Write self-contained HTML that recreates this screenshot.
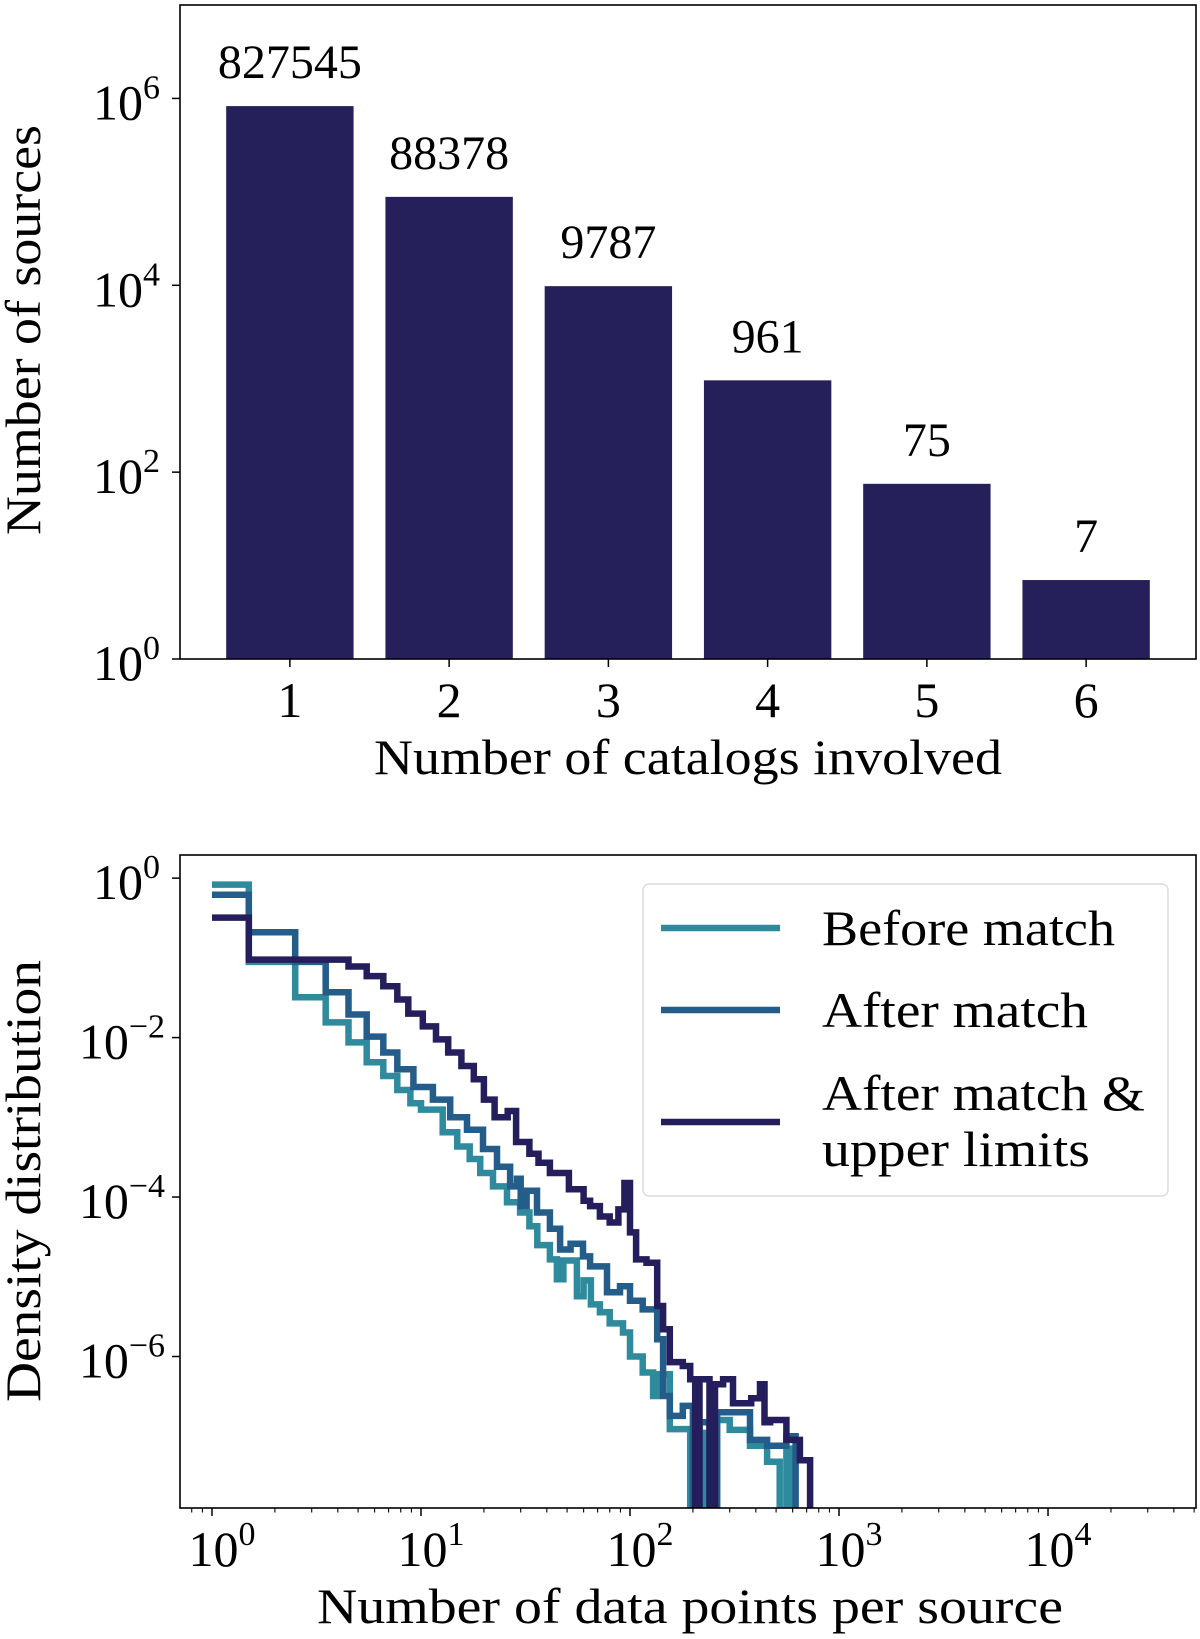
<!DOCTYPE html>
<html><head><meta charset="utf-8">
<style>
html,body{margin:0;padding:0;background:#fff;}
svg{display:block;font-family:"Liberation Serif",serif;}
</style></head>
<body>
<svg id="fig" width="1200" height="1639" viewBox="0 0 1200 1639" xmlns="http://www.w3.org/2000/svg">
<g id="topChart"></g>
<g id="botChart"></g>
</svg>
<script>
// ---- Top chart data ----
const barCategories = [1, 2, 3, 4, 5, 6];
const barValues = [827545, 88378, 9787, 961, 75, 7];
const barYTicks = [0, 2, 4, 6];

// ---- Bottom chart data: step series [left edge x, density] (0 = empty bin) ----
const beforeX = [1,1.5,2.5,3.5,4.5,5.5,6.6,7.7,8.9,10,12.7,14.9,17.1,19.2,22.1,25.8,29.8,33,36,41.4,44.7,48,55.7,60,65,71.8,80,92.6,100,115,129,135,155,194,210,230,261,300,375,453,520,560,583];
const beforeY = [0.83,0.089,0.032,0.0155,8.7e-3,4.9e-3,3.3e-3,2.2e-3,1.5e-3,1.25e-3,6.5e-4,4.3e-4,3.0e-4,2.0e-4,1.36e-4,8.6e-5,6.4e-5,4.3e-5,2.5e-5,1.65e-5,9.3e-6,1.6e-5,5.7e-6,9e-6,4.5e-6,3.6e-6,2.6e-6,2.0e-6,1.0e-6,6.3e-7,3.2e-7,6e-7,1.23e-7,0,1.1e-7,0,1.6e-7,1.2e-7,7.6e-8,4.8e-8,0,7e-8,0];
const afterX = [1,1.5,2.5,3.5,4.5,5.5,6.6,7.7,9.2,11.4,13.8,16.6,19.8,23.1,26.7,28.8,30,32,35.9,41.4,46.3,52,59.6,64.4,77.6,89.6,100,115,135,144,155,179,200,215,240,261,325,375,453,560,620];
const afterY = [0.62,0.21,0.089,0.037,0.0195,0.0103,6.5e-3,4.0e-3,2.4e-3,1.67e-3,1.0e-3,7e-4,4e-4,2.4e-4,1.36e-4,1.7e-4,7.7e-5,1.2e-4,6.4e-5,4e-5,2.2e-5,2.6e-5,1.8e-5,1.35e-5,6.4e-6,7.6e-6,5e-6,3.9e-6,1.65e-6,3.2e-7,1.8e-7,2.4e-7,0,1.5e-7,0,2.0e-7,2.0e-7,9e-8,7.6e-8,1e-7,0];
const upperX = [1,1.5,4.5,5.5,6.6,7.7,8.7,10.2,11.8,13.5,15.6,17.9,20,22.5,26,28.5,33,36.5,41.4,51,60,64.4,71.8,80,88,94,100,107,120,135,144,155,179,194,205,215,240,255,279,311,380,419,440,468,560,650,727];
const upperY = [0.32,0.095,0.078,0.059,0.044,0.030,0.020,0.0138,9.5e-3,6.5e-3,4.4e-3,3.0e-3,1.67e-3,1.0e-3,1.2e-3,4.9e-4,3.5e-4,2.7e-4,2.0e-4,1.25e-4,9e-5,7.7e-5,5.7e-5,4.8e-5,7e-5,1.5e-4,3.6e-5,1.65e-5,1.5e-5,4.3e-6,2.2e-6,8.5e-7,7.6e-7,5.2e-7,0,5.2e-7,0,4.5e-7,5.2e-7,2.6e-7,3e-7,4.5e-7,1.5e-7,1.6e-7,9e-8,5e-8,0];
const botXTicks = [0, 1, 2, 3, 4];
const botYTicks = [0, -2, -4, -6];
const legendLabels = [["Before match"], ["After match"], ["After match &", "upper limits"]];

const NS = "http://www.w3.org/2000/svg";
function mk(parent, tag, attrs, text) {
  const e = document.createElementNS(NS, tag);
  for (const k in attrs) e.setAttribute(k, attrs[k]);
  if (text !== undefined) e.textContent = text;
  parent.appendChild(e);
  return e;
}
function powLabel(g, x, y, exp, anchor, name) {
  const t = mk(g, "text", {x: x, y: y, "font-size": 50, "text-anchor": anchor, fill: "#000"});
  
  
  const b = document.createElementNS(NS, "tspan"); b.textContent = "10"; t.appendChild(b);
  const s = document.createElementNS(NS, "tspan");
  s.setAttribute("font-size", 34); s.setAttribute("dy", -21);
  s.textContent = exp < 0 ? "\u2212" + (-exp) : String(exp);
  t.appendChild(s);
  return t;
}

// ===== Top chart =====
const topG = document.getElementById("topChart");
const T = {l: 180, r: 1196, t: 5, b: 659, xmin: 0.31, xmax: 6.69, ymin: 0, ymax: 7};
const tx = v => T.l + (v - T.xmin) / (T.xmax - T.xmin) * (T.r - T.l);
const ty = v => T.b - (Math.log10(v) - T.ymin) / (T.ymax - T.ymin) * (T.b - T.t);
barCategories.forEach((c, i) => {
  const x0 = tx(c - 0.4), x1 = tx(c + 0.4), y = ty(barValues[i]);
  const r = mk(topG, "rect", {x: x0, y: y, width: x1 - x0, height: T.b - y, fill: "#251f5a"});
  
  
  const lb = mk(topG, "text", {x: tx(c), y: y - 28, "font-size": 48, "text-anchor": "middle"}, String(barValues[i]));
  
  
  const tk = mk(topG, "line", {x1: tx(c), x2: tx(c), y1: T.b, y2: T.b + 8, stroke: "#000", "stroke-width": 1.5});
  
  
  const tl = mk(topG, "text", {x: tx(c), y: 717, "font-size": 50, "text-anchor": "middle"}, String(c));
  
  
});
barYTicks.forEach(e => {
  const y = ty(Math.pow(10, e));
  const tk = mk(topG, "line", {x1: T.l - 8, x2: T.l, y1: y, y2: y, stroke: "#000", "stroke-width": 1.5});
  
  
  powLabel(topG, 160, y + 21, e, "end", 'y-tick-label');
});
const tf = mk(topG, "rect", {x: T.l, y: T.t, width: T.r - T.l, height: T.b - T.t, fill: "none", stroke: "#000", "stroke-width": 1.6});


const txl = mk(topG, "text", {x: 374, y: 774, "font-size": 50, textLength: 628, lengthAdjust: "spacingAndGlyphs"}, "Number of catalogs involved");


const tyl = mk(topG, "text", {x: 0, y: 0, "font-size": 50, "text-anchor": "middle", textLength: 410, lengthAdjust: "spacingAndGlyphs", transform: "translate(40,330) rotate(-90)"}, "Number of sources");



// ===== Bottom chart =====
const botG = document.getElementById("botChart");
const B = {l: 180, r: 1196, t: 855, b: 1508, xmin: -0.153, xmax: 4.708, ymin: -7.9, ymax: 0.29};
const bx = v => B.l + (Math.log10(v) - B.xmin) / (B.xmax - B.xmin) * (B.r - B.l);
const by = v => v <= 0 ? B.b + 20 : B.b - (Math.log10(v) - B.ymin) / (B.ymax - B.ymin) * (B.b - B.t);
const cp = mk(botG, "clipPath", {id: "clipB"});
mk(cp, "rect", {x: B.l, y: B.t, width: B.r - B.l, height: B.b - B.t});
const series = [
  {xs: beforeX, ys: beforeY, color: "#2e8a9c", name: "before-match-line"},
  {xs: afterX, ys: afterY, color: "#245c8a", name: "after-match-line"},
  {xs: upperX, ys: upperY, color: "#241f5c", name: "after-match-upper-limits-line"}
];
const sg = mk(botG, "g", {"clip-path": "url(#clipB)"});
series.forEach(s => {
  let d = "";
  for (let i = 0; i < s.xs.length; i++) {
    const x = bx(s.xs[i]), y = by(s.ys[i]);
    const xn = i + 1 < s.xs.length ? bx(s.xs[i + 1]) : bx(s.xs[i] * 1.08);
    d += (i === 0 ? "M" : "L") + x.toFixed(1) + "," + y.toFixed(1) + "L" + xn.toFixed(1) + "," + y.toFixed(1);
  }
  const p = mk(sg, "path", {d: d, fill: "none", stroke: s.color, "stroke-width": 6.5, "stroke-linejoin": "miter"});
  
  
});
for (let e = -1; e <= 4; e++) {
  for (let m = 1; m <= 9; m++) {
    const v = m * Math.pow(10, e);
    const lv = Math.log10(v);
    if (lv < B.xmin || lv > B.xmax) continue;
    const x = bx(v), len = m === 1 ? 8 : 4.5;
    const tk = mk(botG, "line", {x1: x, x2: x, y1: B.b, y2: B.b + len, stroke: "#000", "stroke-width": m === 1 ? 1.5 : 1.1});
    
    
  }
}
botXTicks.forEach(e => { powLabel(botG, bx(Math.pow(10, e)) + 10, 1566, e, "middle", 'x-tick-label'); });
botYTicks.forEach(e => {
  const y = by(Math.pow(10, e));
  const tk = mk(botG, "line", {x1: B.l - 8, x2: B.l, y1: y, y2: y, stroke: "#000", "stroke-width": 1.5});
  
  
  powLabel(botG, e === 0 ? 160 : 165, y + 21, e, "end", 'y-tick-label');
});
const bf = mk(botG, "rect", {x: B.l, y: B.t, width: B.r - B.l, height: B.b - B.t, fill: "none", stroke: "#000", "stroke-width": 1.6});


const lg = mk(botG, "g", {});


mk(lg, "rect", {x: 643, y: 884, width: 525, height: 312, rx: 6, fill: "#fff", "fill-opacity": 0.85, stroke: "#dcdcdc", "stroke-width": 1.5});
const legY = [928, 1010, 1122];
const legW = [[293], [266], [323, 268]];
legendLabels.forEach((lines, i) => {
  const ln = mk(lg, "line", {x1: 661, x2: 780, y1: legY[i], y2: legY[i], stroke: series[i].color, "stroke-width": 6.5});
  
  
  const base = lines.length === 1 ? legY[i] + 17 : legY[i] - 12;
  lines.forEach((txt, j) => {
    const t = mk(lg, "text", {x: 822, y: base + j * 56, "font-size": 50, textLength: legW[i][j], lengthAdjust: "spacingAndGlyphs"}, txt);
    
    
  });
});
const bxl = mk(botG, "text", {x: 317, y: 1623, "font-size": 50, textLength: 746, lengthAdjust: "spacingAndGlyphs"}, "Number of data points per source");


const byl = mk(botG, "text", {x: 0, y: 0, "font-size": 50, "text-anchor": "middle", textLength: 442, lengthAdjust: "spacingAndGlyphs", transform: "translate(40,1181) rotate(-90)"}, "Density distribution");


</script>
</body></html>
